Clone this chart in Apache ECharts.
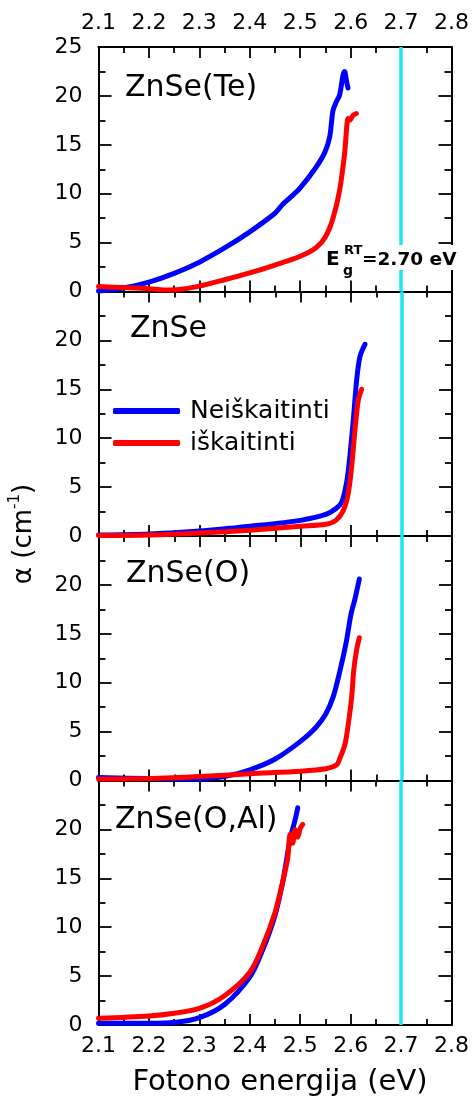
<!DOCTYPE html>
<html>
<head>
<meta charset="utf-8">
<script src="https://cdn.jsdelivr.net/npm/echarts@6/dist/echarts.min.js"></script>
<style>html,body{margin:0;padding:0;background:#fff}#c{width:472px;height:1097px}</style>
</head>
<body>
<div id="c"></div>
<script>
// ---- data (photon energy eV, alpha cm^-1) ----
const panelNames = ['ZnSe(Te)', 'ZnSe', 'ZnSe(O)', 'ZnSe(O,Al)'];
const seriesNames = ['Neiškaitinti', 'iškaitinti'];
const xTickValues = [2.1, 2.2, 2.3, 2.4, 2.5, 2.6, 2.7, 2.8];
const yTickValues = [0, 5, 10, 15, 20, 25];
const gapEnergy = 2.70;

const teBlue = [[2.10,0.05],[2.15,0.35],[2.20,0.95],[2.25,1.85],[2.30,3.0],[2.35,4.45],[2.40,6.1],[2.45,8.0],[2.46,8.6],[2.465,8.9],[2.48,9.6],[2.50,10.6],[2.53,12.6],[2.5485,14.2],[2.5584,15.8],[2.565,18.5],[2.5716,19.4],[2.5782,20.1],[2.5848,22.1],[2.588,22.5],[2.5915,21.6],[2.5947,20.8]];
const teRed = [[2.10,0.5],[2.15,0.4],[2.20,0.28],[2.23,0.15],[2.26,0.2],[2.30,0.55],[2.35,1.2],[2.40,1.9],[2.45,2.7],[2.50,3.6],[2.532,4.5],[2.55,5.6],[2.565,7.5],[2.578,10.3],[2.588,14.1],[2.595,17.7],[2.598,17.5],[2.6046,18.0],[2.6113,18.2]];
const znBlue = [[2.10,0.1],[2.20,0.2],[2.30,0.5],[2.40,1.0],[2.50,1.6],[2.55,2.2],[2.57,2.8],[2.58,3.3],[2.588,4.6],[2.5947,6.7],[2.6046,11.9],[2.6113,16.0],[2.618,18.4],[2.6277,19.6]];
const znRed = [[2.10,0.05],[2.20,0.1],[2.30,0.3],[2.40,0.6],[2.50,1.0],[2.55,1.2],[2.57,1.6],[2.5848,2.6],[2.5947,4.4],[2.6013,7.1],[2.608,10.9],[2.6145,13.9],[2.621,15.0]];
const oBlue = [[2.10,0.3],[2.20,0.2],[2.30,0.15],[2.35,0.4],[2.40,1.1],[2.45,2.2],[2.50,4.0],[2.53,5.4],[2.55,6.8],[2.565,8.6],[2.578,11.2],[2.59,14.0],[2.60,17.0],[2.608,18.6],[2.6165,20.6]];
const oRed = [[2.10,0.15],[2.20,0.2],[2.30,0.4],[2.40,0.7],[2.50,0.95],[2.55,1.2],[2.5716,1.6],[2.5782,2.3],[2.588,3.7],[2.5947,5.8],[2.6013,8.5],[2.6055,11.3],[2.6113,13.4],[2.6165,14.6]];
const alBlue = [[2.10,0.17],[2.20,0.17],[2.25,0.25],[2.30,0.75],[2.35,2.1],[2.40,4.9],[2.425,7.6],[2.45,11.2],[2.465,14.5],[2.47,16.0],[2.48,19.0],[2.49,21.0],[2.495,22.2]];
const alRed = [[2.10,0.68],[2.20,0.92],[2.25,1.2],[2.30,1.7],[2.35,3.0],[2.40,5.4],[2.425,8.0],[2.45,11.5],[2.465,14.6],[2.475,17.0],[2.48,19.5],[2.485,18.6],[2.49,20.0],[2.495,19.2],[2.50,20.1],[2.505,20.5]];

const blueSets = [teBlue, znBlue, oBlue, alBlue];
const redSets = [teRed, znRed, oRed, alRed];

// ---- layout ----
const FONT = 'DejaVu Sans';
const panelTop = 47, panelH = 244.5;
const labelPos = [[125, 88], [130, 329], [126, 574], [115, 820]];

const grids = [], xAxes = [], yAxes = [], series = [];
const axisLineStyle = { color: '#000', width: 2 };
const tickStyle = { color: '#000', width: 1.8 };

for (let i = 0; i < 4; i++) {
  grids.push({ left: 98.5, right: 20, top: panelTop + i * panelH, height: panelH });
  ['bottom', 'top'].forEach(pos => {
    const showLab = (pos === 'bottom' && i === 3) || (pos === 'top' && i === 0);
    xAxes.push({
      type: 'value', gridIndex: i, position: pos,
      min: xTickValues[0], max: xTickValues[xTickValues.length - 1], interval: 0.1,
      axisLine: { show: true, onZero: false, lineStyle: axisLineStyle },
      axisTick: { show: true, inside: true, length: 11, lineStyle: tickStyle },
      minorTick: { show: true, splitNumber: 2, length: 6, lineStyle: tickStyle },
      splitLine: { show: false },
      axisLabel: { show: showLab, margin: pos === 'top' ? 13 : 10, fontSize: 22, fontFamily: FONT, color: '#000',
        formatter: v => v.toFixed(1) }
    });
  });
  ['left', 'right'].forEach(pos => {
    yAxes.push({
      type: 'value', gridIndex: i, position: pos,
      min: yTickValues[0], max: yTickValues[yTickValues.length - 1], interval: 5,
      axisLine: { show: true, onZero: false, lineStyle: axisLineStyle },
      axisTick: { show: true, inside: true, length: 13, lineStyle: tickStyle },
      minorTick: { show: true, splitNumber: 2, length: 7, lineStyle: tickStyle },
      splitLine: { show: false },
      axisLabel: { show: pos === 'left', margin: 16, fontSize: 22, fontFamily: FONT, color: '#000',
        formatter: v => (i === 0 || v < 25) ? String(v) : '' }
    });
  });
  series.push({
    name: seriesNames[0], type: 'line', xAxisIndex: 2 * i, yAxisIndex: 2 * i,
    data: blueSets[i], showSymbol: false, smooth: 0.3,
    lineStyle: { color: '#0000ff', width: 5, cap: 'round', join: 'round' }, itemStyle: { color: '#0000ff' }, z: 3
  });
  series.push({
    name: seriesNames[1], type: 'line', xAxisIndex: 2 * i, yAxisIndex: 2 * i,
    data: redSets[i], showSymbol: false, smooth: 0.3,
    lineStyle: { color: '#ff0000', width: 5, cap: 'round', join: 'round' }, itemStyle: { color: '#ff0000' }, z: 4,
    markLine: {
      silent: true, symbol: ['none', 'none'], label: { show: false },
      lineStyle: { color: '#1ee6f0', width: 3.5, type: 'solid' },
      data: [{ xAxis: gapEnergy }]
    }
  });
}

const graphic = [];
panelNames.forEach((n, i) => {
  graphic.push({ type: 'text', x: labelPos[i][0], y: labelPos[i][1], z: 50,
    style: { text: n, fontSize: 30, fontFamily: FONT, fill: '#000', textVerticalAlign: 'middle', verticalAlign: 'middle' } });
});
// Eg annotation
graphic.push({ type: 'rect', z: 60, shape: { x: 325, y: 245, width: 133, height: 25 }, style: { fill: '#fff' } });
graphic.push({ type: 'text', z: 61, x: 326, y: 260, style: { text: 'E', fontSize: 20, fontWeight: 'bold', fontFamily: FONT, fill: '#000', verticalAlign: 'middle', textVerticalAlign: 'middle' } });
graphic.push({ type: 'text', z: 61, x: 344, y: 251, style: { text: 'RT', fontSize: 13, fontWeight: 'bold', fontFamily: FONT, fill: '#000', verticalAlign: 'middle', textVerticalAlign: 'middle' } });
graphic.push({ type: 'text', z: 61, x: 343, y: 271, style: { text: 'g', fontSize: 14, fontWeight: 'bold', fontFamily: FONT, fill: '#000', verticalAlign: 'middle', textVerticalAlign: 'middle' } });
graphic.push({ type: 'text', z: 61, x: 362, y: 260, style: { text: '=' + gapEnergy.toFixed(2) + ' eV', fontSize: 18.5, fontWeight: 'bold', fontFamily: FONT, fill: '#000', verticalAlign: 'middle', textVerticalAlign: 'middle' } });
// axis titles
graphic.push({ type: 'text', z: 50, x: 280, y: 1082,
  style: { text: 'Fotono energija (eV)', fontSize: 29, fontFamily: FONT, fill: '#000', align: 'center', textAlign: 'center', verticalAlign: 'middle', textVerticalAlign: 'middle' } });
graphic.push({ type: 'text', z: 50, x: 24, y: 534, rotation: Math.PI / 2,
  style: { text: '{a|α (cm}{s|-1}{a|)}', fill: '#000', align: 'center', textAlign: 'center', verticalAlign: 'middle', textVerticalAlign: 'middle',
    rich: { a: { fontSize: 26, fontFamily: FONT, lineHeight: 32 }, s: { fontSize: 15, fontFamily: FONT, lineHeight: 15, verticalAlign: 'top' } } } });

const chart = echarts.init(document.getElementById('c'), null, { renderer: 'canvas' });
chart.setOption({
  animation: false,
  backgroundColor: '#fff',
  grid: grids, xAxis: xAxes, yAxis: yAxes, series: series,
  legend: {
    data: seriesNames, orient: 'vertical', left: 113, top: 398, padding: 0,
    itemWidth: 67, itemHeight: 6, itemGap: 6, icon: 'roundRect',
    textStyle: { fontSize: 25, fontFamily: FONT, color: '#000', lineHeight: 26, padding: [0, 0, 0, 5] }
  },
  graphic: graphic
});
</script>
</body>
</html>
